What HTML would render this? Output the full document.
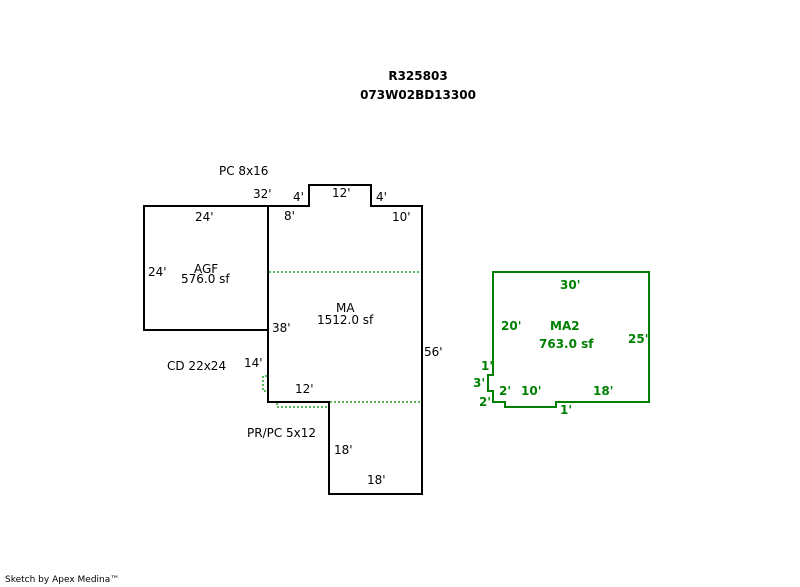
<!DOCTYPE html>
<html><head><meta charset="utf-8"><style>
html,body{margin:0;padding:0;background:#fff;}
svg{display:block;}
text{font-family:"DejaVu Sans","Liberation Sans",sans-serif;font-size:12px;fill:#000;}
.g{fill:#008000;font-weight:bold;}
</style></head><body>
<svg width="800" height="587" viewBox="0 0 800 587">
<text x="418" y="80" text-anchor="middle" font-weight="bold" style="font-weight:bold">R325803</text>
<text x="418" y="99" text-anchor="middle" style="font-weight:bold">073W02BD13300</text>

<g fill="none" stroke="#000" stroke-width="2">
<rect x="144" y="206" width="124" height="124"/>
<path d="M268 206 H309 V185 H371 V206 H422 V494 H329 V402 H268 Z"/>
</g>
<g fill="none" stroke="#5cb85c" stroke-width="2" stroke-dasharray="2,2">
<path d="M269 272 H421"/>
<path d="M330 402 H421"/>
<path d="M267 376 H263 V391 H267"/>
<path d="M277 403 V407 H329"/>
</g>
<g fill="none" stroke="#008000" stroke-width="2">
<path d="M493 272 H649 V402 H556 V407 H505 V402 H493 V391 H488 V375 H493 Z"/>
</g>

<text x="219" y="175">PC 8x16</text>
<text x="253" y="198">32'</text>
<text x="293" y="201">4'</text>
<text x="332" y="197">12'</text>
<text x="376" y="201">4'</text>
<text x="195" y="221">24'</text>
<text x="284" y="220">8'</text>
<text x="392" y="221">10'</text>
<text x="148" y="276">24'</text>
<text x="194" y="273">AGF</text>
<text x="181" y="283">576.0 sf</text>
<text x="336" y="312">MA</text>
<text x="317" y="324">1512.0 sf</text>
<text x="272" y="332">38'</text>
<text x="424" y="356">56'</text>
<text x="167" y="370">CD 22x24</text>
<text x="244" y="367">14'</text>
<text x="295" y="393">12'</text>
<text x="247" y="437">PR/PC 5x12</text>
<text x="334" y="454">18'</text>
<text x="367" y="484">18'</text>

<text class="g" x="560" y="289">30'</text>
<text class="g" x="501" y="330">20'</text>
<text class="g" x="550" y="330">MA2</text>
<text class="g" x="539" y="348">763.0 sf</text>
<text class="g" x="628" y="343">25'</text>
<text class="g" x="481" y="370">1'</text>
<text class="g" x="473" y="387">3'</text>
<text class="g" x="499" y="395">2'</text>
<text class="g" x="521" y="395">10'</text>
<text class="g" x="593" y="395">18'</text>
<text class="g" x="479" y="406">2'</text>
<text class="g" x="560" y="414">1'</text>

<text x="5" y="582" style="font-size:9px">Sketch by Apex Medina™</text>
</svg>
</body></html>
